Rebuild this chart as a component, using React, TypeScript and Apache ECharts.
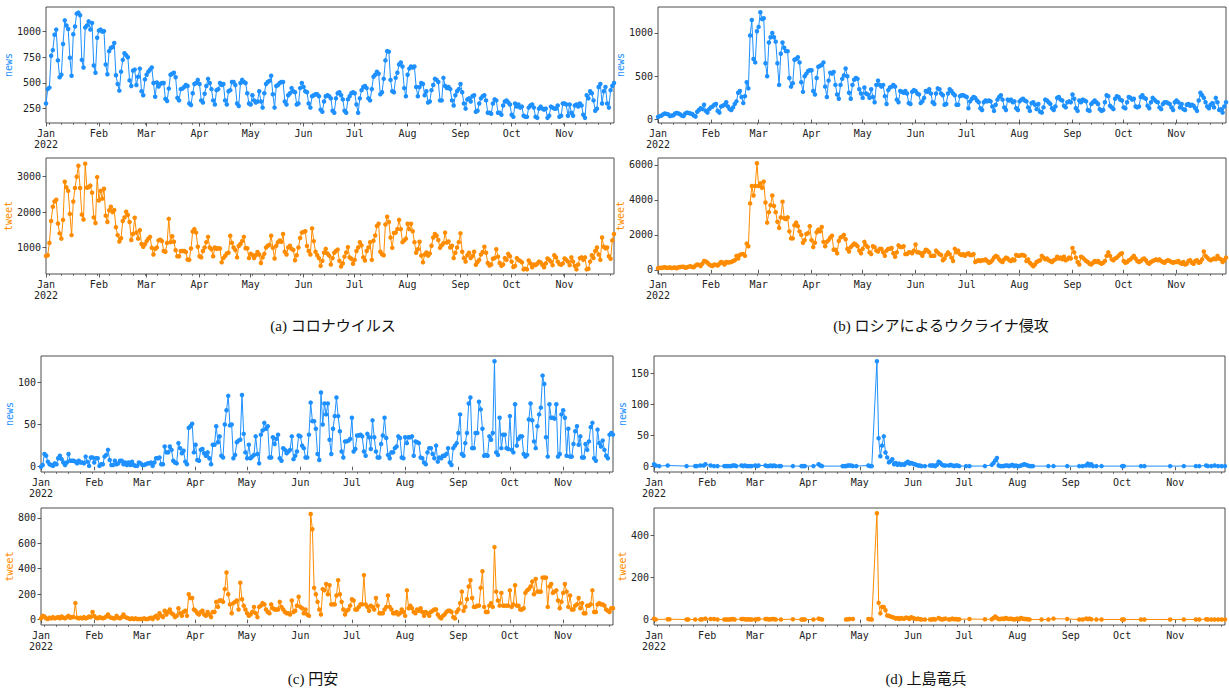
import React, { useEffect, useRef } from "react";
import * as echarts from "echarts";

// ---- axis text (day index 0 = 2022-01-01, last = 2022-11-30) ----
const lastDay = 333;
const monthStarts = [0, 31, 59, 90, 120, 151, 181, 212, 243, 273, 304];
const monthLabels = ["Jan\n2022", "Feb", "Mar", "Apr", "May", "Jun", "Jul", "Aug", "Sep", "Oct", "Nov"];

// ---- (a) コロナウイルス : daily values Jan 1 .. Nov 30 ----
const aNews = [
  300,440,455,765,820,970,1020,720,555,580,880,1110,1060,1025,745,570,975,1050,1175,1185,1160,725,650,1040,1060,1100,1020,1085,670,600,940,
  1010,1020,1000,1005,680,585,810,840,850,890,575,490,425,610,725,790,770,750,525,470,620,630,480,560,640,420,380,535,
  580,610,630,650,500,365,505,465,490,500,500,345,325,445,580,590,600,555,355,330,440,445,460,480,470,300,285,400,490,500,530,
  490,330,310,395,470,540,500,440,330,290,430,440,500,480,490,330,290,420,430,510,510,480,300,275,500,530,510,500,400,300,
  290,380,330,310,320,420,320,260,400,490,510,520,570,390,260,470,480,500,510,510,320,290,380,400,450,420,410,290,300,450,500,
  460,420,410,300,260,370,380,390,390,370,240,220,320,370,380,370,350,230,210,350,400,410,380,340,230,210,340,370,400,410,
  400,290,210,350,430,460,470,450,350,330,440,560,580,610,590,390,410,540,720,810,805,530,420,410,550,600,680,700,660,450,370,
  580,640,660,650,660,460,370,460,500,490,380,420,310,320,430,480,540,530,510,330,330,550,470,450,460,440,330,280,380,420,440,
  490,410,300,250,340,350,320,370,380,220,230,300,350,370,380,330,210,210,200,300,340,330,210,210,190,280,320,330,310,290,
  190,170,300,270,290,260,270,180,170,170,260,280,290,260,170,160,250,270,250,240,250,160,180,270,260,250,250,280,170,180,300,
  300,290,180,290,210,180,280,290,270,300,280,190,160,380,350,420,400,330,230,250,460,490,300,420,460,300,260,430,470,500,
];
const aTweet = [
  760,780,1130,1750,2150,2300,2350,1680,1400,1250,1780,2860,2700,2600,1950,1350,2300,2680,3000,3310,2680,1930,1790,3370,2690,2710,2750,2550,1850,1690,2990,
  2330,2600,2380,2660,1900,1720,2050,2150,2000,2060,1570,1350,1170,1260,1750,1850,2010,1920,1720,1210,1380,1840,1420,1250,1490,1100,1020,1090,
  1180,1250,1300,990,800,960,1000,1200,1220,1180,900,880,1130,1810,1150,1320,1160,920,750,750,900,900,900,870,660,650,970,1450,1520,1420,1020,
  750,720,900,1000,1150,1300,1000,950,750,1000,960,980,970,580,700,760,830,850,1330,1130,1000,930,720,1040,1100,1180,1300,980,980,700,
  820,790,700,780,870,800,560,720,820,1000,1050,1070,1330,990,690,1050,1150,1200,1160,1380,880,800,1000,1050,960,930,640,780,1000,1270,1420,
  1440,1460,1040,900,800,1540,1180,880,780,700,480,620,850,960,830,770,520,700,850,900,940,620,460,550,740,860,1010,720,680,540,
  650,900,1000,1150,1060,720,630,900,1000,1150,650,1190,1340,1610,1670,880,810,780,1650,1870,1720,1280,990,1410,1420,1520,1780,1520,1150,1200,1250,
  1670,1520,1670,1460,1150,850,950,1160,770,580,800,860,770,830,1050,1280,1380,1330,1210,990,1060,1120,1420,1140,1170,1000,1050,700,850,1000,1150,
  1400,880,700,600,780,850,700,760,880,510,590,650,800,870,1020,850,560,490,520,680,700,950,740,560,480,520,700,650,820,750,
  600,450,480,700,650,620,580,380,400,380,630,550,440,520,500,540,600,580,510,440,550,690,650,600,500,780,720,600,530,510,550,
  690,650,600,500,720,600,480,380,520,700,720,650,720,380,400,600,780,700,900,1000,800,650,1280,1020,980,1000,750,680,1200,1380,
];

// ---- (b) ロシアによるウクライナ侵攻 ----
const bNews = [
  30,40,45,60,70,65,60,40,45,50,70,75,70,60,45,40,70,80,75,70,65,45,35,90,110,130,120,170,100,80,120,
  140,150,170,180,100,80,150,160,170,200,150,120,110,140,180,210,310,330,260,190,270,430,360,970,1150,700,660,1020,
  1070,1240,1160,1170,650,500,890,950,1000,950,900,650,400,760,890,830,790,790,480,380,420,690,700,720,660,430,320,500,530,560,570,
  570,330,290,480,610,620,630,660,380,260,450,540,530,550,400,290,240,400,470,510,590,500,310,240,400,460,480,470,350,300,
  250,370,300,290,250,350,260,200,400,450,400,380,400,270,180,340,370,380,400,380,230,200,330,320,310,330,300,190,180,320,340,
  330,300,290,190,210,250,330,320,350,300,200,180,300,360,350,300,280,170,180,300,350,330,300,280,170,170,270,280,280,270,
  260,130,210,240,260,250,220,200,130,110,200,220,210,220,210,150,100,170,230,260,280,230,140,110,230,220,230,200,210,130,110,
  210,230,240,220,210,140,100,190,200,170,120,180,90,80,140,230,220,200,180,130,110,150,250,260,230,220,160,140,200,210,200,
  290,240,130,100,220,200,230,220,210,110,100,180,200,220,200,180,120,100,110,200,280,270,160,140,120,240,270,260,230,220,
  140,130,200,260,250,230,240,150,140,150,260,280,250,240,160,130,200,250,230,210,200,140,120,180,200,200,190,180,140,110,200,
  220,200,140,180,120,110,170,180,160,170,160,130,100,220,310,280,250,200,150,130,170,190,140,250,200,110,120,80,150,200,
];
const bTweet = [
  90,120,100,130,150,120,110,140,100,120,130,90,150,160,170,180,120,150,180,200,160,150,250,300,280,220,350,500,480,400,300,
  250,220,300,280,250,350,450,400,300,450,420,430,450,500,550,800,650,850,900,900,800,1500,1350,3800,4800,4250,4800,6100,
  4800,4950,4700,5050,3850,2700,3300,3700,4250,3650,3300,2750,2400,3000,3900,2950,2900,3000,2200,1800,1800,2550,2700,2500,2200,2000,1550,1700,2050,2100,2500,
  1700,1300,1550,2150,2300,2200,2450,1600,1350,1600,1700,1850,1950,1150,1150,950,1650,1850,1900,2000,1750,1200,1050,1300,1400,1500,1450,1350,1100,950,
  1200,1600,1400,1300,1000,900,1350,1300,1100,1050,1200,1200,1000,800,1100,1200,1200,1250,950,750,1000,1400,1300,1300,1350,900,900,1000,1000,950,1100,
  1450,1000,1000,950,800,1000,1150,1100,1000,800,800,800,1100,1000,900,850,550,650,850,1000,900,700,500,1200,1000,1100,900,850,900,800,
  900,950,850,850,900,450,500,550,500,550,550,600,500,400,450,550,700,800,750,600,500,450,600,700,650,550,500,600,550,850,800,
  800,850,850,800,500,600,400,300,200,300,450,500,550,800,700,600,650,550,500,450,550,600,750,650,700,600,750,550,600,700,650,
  1250,1000,700,450,300,750,700,600,500,450,350,300,400,500,450,500,400,350,400,500,800,1000,800,600,550,650,700,800,900,950,
  500,400,450,550,600,700,800,650,500,450,500,600,650,550,400,350,450,500,550,600,550,600,500,450,400,500,550,500,450,400,450,
  450,500,400,350,450,300,350,500,550,400,350,500,550,400,450,600,1050,800,700,600,550,600,650,600,800,650,600,450,550,700,
];

// ---- (c) 円安 ----
const cNews = [
  0,2,15,13,6,3,2,1,4,3,10,13,9,5,2,5,15,7,7,7,6,4,7,5,5,4,12,6,1,11,11,
  5,10,10,1,3,3,12,14,20,8,2,2,7,3,4,7,7,3,5,2,5,2,6,2,1,1,5,4,
  2,2,3,4,4,5,1,5,10,10,11,3,3,24,17,17,24,20,7,5,4,28,22,16,19,6,3,46,48,51,17,
  26,8,7,20,21,16,13,17,10,3,26,26,48,29,36,13,11,50,67,84,49,50,10,14,29,31,32,85,39,17,
  10,26,10,12,14,36,15,4,38,43,52,45,48,11,11,35,27,33,38,10,7,22,20,16,18,20,36,9,13,18,37,
  36,25,22,11,11,38,76,54,54,45,15,8,88,50,75,62,75,32,15,45,60,82,60,42,18,11,30,30,31,33,
  58,18,21,37,37,38,36,18,13,39,35,21,55,35,18,11,11,27,37,58,34,14,10,17,17,22,24,36,34,11,10,
  35,28,35,35,36,13,30,29,28,11,10,5,3,17,22,22,15,10,25,6,11,10,13,13,15,22,5,2,22,25,28,
  40,62,15,13,28,40,75,82,22,22,40,40,77,68,45,13,14,13,36,32,40,125,17,14,58,22,38,38,22,21,
  60,20,17,74,25,33,36,36,15,12,14,56,75,55,30,22,48,62,70,108,98,35,12,74,58,58,57,74,12,15,62,
  67,58,13,45,12,12,27,42,48,26,36,11,11,27,20,30,47,52,10,7,44,28,24,31,20,13,10,38,40,38,
];
const cTweet = [
  10,30,25,10,5,15,10,20,10,15,20,10,25,15,10,20,30,15,20,20,130,15,10,15,10,20,10,15,25,20,60,
  30,15,10,20,15,10,15,25,40,20,15,10,10,30,15,10,20,40,20,15,10,5,10,5,10,5,5,5,
  5,10,5,5,10,15,5,20,30,10,50,30,20,70,40,60,80,50,40,20,30,90,50,30,60,70,30,200,170,170,80,
  70,50,40,60,70,40,30,60,40,20,60,60,140,100,150,150,140,240,370,200,120,50,130,140,150,80,290,160,110,80,
  50,30,40,60,100,50,20,100,110,130,120,80,60,50,120,90,80,80,80,140,100,80,60,50,50,40,150,60,70,110,180,
  100,90,50,80,40,30,830,710,250,200,140,80,40,240,230,280,200,270,120,120,120,190,310,200,140,80,40,70,80,110,
  160,150,80,80,100,120,120,350,120,100,70,110,100,80,170,110,50,50,50,80,100,190,100,80,50,50,60,40,50,80,60,
  30,230,90,110,90,60,50,80,70,90,60,30,60,50,30,60,70,80,80,40,20,10,30,40,60,70,70,60,20,10,60,
  80,130,220,70,100,160,260,310,170,100,100,110,110,250,380,100,60,60,110,130,100,570,220,150,110,210,110,110,110,110,
  230,100,120,270,110,110,80,80,90,210,230,240,260,300,200,320,220,220,220,330,330,330,100,260,280,210,220,230,150,90,140,
  210,280,220,100,190,80,80,110,120,170,90,130,50,50,110,110,120,230,60,60,120,130,120,120,110,80,70,60,90,90,
];

// ---- (d) 上島竜兵 : [day index, count] only on days with data (null = missing) ----
const dNews = [
  [0,4],[1,2],[3,1],[8,2],[19,1],[24,1],[25,1],[27,2],[29,2],[30,4],[33,2],[35,1],[37,1],[41,1],[42,1],[43,1],[44,1],[45,1],[46,2],[47,2],[48,1],
  [51,2],[52,1],[53,2],[54,1],[55,1],[56,1],[57,1],[59,2],[60,1],[61,2],[65,2],[66,1],[67,1],[68,2],[69,1],[70,2],[71,1],[73,1],[74,1],[81,1],
  [86,1],[87,1],[88,1],[93,1],[96,4],[97,2],[98,1],[110,1],[111,1],[112,1],[113,2],[114,2],[115,2],[116,1],[118,1],[125,2],[126,1],[127,1],
  [130,170],[131,46],[132,17],[133,34],[134,49],[135,23],[136,15],[137,7],[138,9],[139,12],[140,4],[141,6],[142,3],[143,5],[144,3],[145,4],
  [146,3],[147,6],[148,8],[149,5],[150,6],[151,5],[152,4],[153,3],[154,2],[155,2],[156,1],[158,1],[161,2],[162,2],[163,2],[164,1],[165,3],
  [166,8],[167,6],[168,3],[169,2],[170,2],[172,2],[173,3],[174,2],[175,1],[176,2],[177,2],[178,1],[182,1],[184,1],[193,1],[197,3],[198,6],
  [199,10],[200,14],[201,2],[202,1],[203,1],[204,1],[205,2],[206,2],[207,1],[208,2],[209,3],[210,1],[211,2],[212,1],[213,1],[214,2],[215,3],
  [216,4],[217,3],[218,2],[219,1],[220,1],[221,1],[230,1],[233,1],[241,1],[248,1],[250,1],[252,2],[253,5],[254,2],[255,4],[256,1],[258,1],
  [261,1],[273,1],[274,1],[284,1],[286,1],[301,1],[309,1],[316,1],[318,1],[322,2],[323,1],[325,1],[327,2],[329,1],[331,1],[333,1],
];
const dTweet = [
  [0,5],[1,1],[8,2],[9,2],[19,1],[20,1],[24,1],[27,1],[28,2],[30,5],[33,3],[35,3],[37,1],[41,1],[42,1],[43,1],[44,1],[45,2],[46,3],[47,1],
  [51,3],[52,3],[53,2],[54,1],[55,2],[56,1],[57,1],[59,1],[60,2],[61,3],[65,3],[66,3],[67,1],[68,2],[69,3],[70,3],[71,1],[74,1],[81,2],
  [86,1],[87,1],[88,1],[93,1],[96,5],[97,3],[98,1],[104,null],[112,1],[113,2],[114,3],[116,3],[118,null],[125,3],[126,2],[127,1],
  [130,505],[131,80],[132,30],[133,60],[134,60],[135,45],[136,20],[137,18],[138,15],[139,12],[140,10],[141,5],[142,8],[143,3],[144,8],
  [145,5],[146,5],[147,10],[148,8],[149,3],[150,12],[151,8],[152,5],[153,3],[154,5],[155,2],[156,1],[158,1],[161,1],[162,1],[163,3],[164,1],
  [166,8],[167,3],[168,1],[169,3],[170,5],[172,1],[173,2],[174,5],[175,2],[176,3],[177,1],[178,2],[184,3],[193,2],[197,2],[198,8],[199,15],
  [200,8],[201,3],[202,3],[203,5],[204,3],[205,8],[206,5],[207,3],[208,5],[209,3],[210,1],[211,3],[212,5],[213,2],[214,8],[215,5],[216,3],
  [217,3],[218,2],[219,1],[226,1],[230,1],[233,5],[241,3],[248,1],[250,1],[252,5],[253,3],[254,5],[255,2],[258,1],[261,1],[273,1],[274,1],
  [284,1],[286,1],[301,1],[309,1],[316,1],[318,1],[322,2],[323,1],[325,1],[327,1],[329,1],[331,1],[333,1],
];

// ---- y tick labels per panel ----
const aNewsTicks = [250, 500, 750, 1000];
const aTweetTicks = [1000, 2000, 3000];
const bNewsTicks = [0, 500, 1000];
const bTweetTicks = [0, 2000, 4000, 6000];
const cNewsTicks = [0, 50, 100];
const cTweetTicks = [0, 200, 400, 600, 800];
const dNewsTicks = [0, 50, 100, 150];
const dTweetTicks = [0, 200, 400];

const captions = ["(a) コロナウイルス", "(b) ロシアによるウクライナ侵攻", "(c) 円安", "(d) 上島竜兵"];

const BLUE = "#1E90FF";
const ORANGE = "#FF8C00";
const TICK_FONT = "'DejaVu Sans Mono', 'Noto Sans CJK JP', monospace";

const toPairs = (vals: number[]) => vals.map((v, i) => [i, v]);

const panels = [
  { data: toPairs(aNews), left: 46, top: 7, width: 568, height: 116, min: 110, max: 1240, ticks: aNewsTicks, name: "news", color: BLUE, gap: 31 },
  { data: toPairs(aTweet), left: 46, top: 158, width: 568, height: 116, min: 250, max: 3530, ticks: aTweetTicks, name: "tweet", color: ORANGE, gap: 31 },
  { data: toPairs(bNews), left: 658, top: 7, width: 568, height: 116, min: -40, max: 1300, ticks: bNewsTicks, name: "news", color: BLUE, gap: 31 },
  { data: toPairs(bTweet), left: 658, top: 158, width: 568, height: 116, min: -240, max: 6400, ticks: bTweetTicks, name: "tweet", color: ORANGE, gap: 31 },
  { data: toPairs(cNews), left: 41, top: 356, width: 572, height: 116, min: -6.25, max: 131.25, ticks: cNewsTicks, name: "news", color: BLUE, gap: 26 },
  { data: toPairs(cTweet), left: 41, top: 508, width: 572, height: 117, min: -42, max: 877, ticks: cTweetTicks, name: "tweet", color: ORANGE, gap: 26 },
  { data: dNews, left: 654, top: 356, width: 571, height: 116, min: -8.5, max: 178.5, ticks: dNewsTicks, name: "news", color: BLUE, gap: 26 },
  { data: dTweet, left: 654, top: 508, width: 571, height: 117, min: -25.25, max: 530.25, ticks: dTweetTicks, name: "tweet", color: ORANGE, gap: 26 },
];

const captionPos = [
  { x: 333, y: 326 },
  { x: 941, y: 326 },
  { x: 313, y: 679 },
  { x: 926, y: 679 },
];

export default function App() {
  const ref = useRef<HTMLDivElement>(null);
  useEffect(() => {
    if (!ref.current) return;
    const chart = echarts.init(ref.current, undefined, { renderer: "svg" });
    const mondays: number[] = [];
    for (let d = 2; d <= lastDay; d += 7) mondays.push(d);

    const grid: any[] = [];
    const xAxis: any[] = [];
    const yAxis: any[] = [];
    const series: any[] = [];
    panels.forEach((p, i) => {
      grid.push({
        left: p.left, top: p.top, width: p.width, height: p.height,
        show: true, borderColor: "#4d4d4d", borderWidth: 1, backgroundColor: "transparent",
      });
      xAxis.push({
        type: "value", gridIndex: i, min: 0, max: lastDay, position: "bottom",
        axisLine: { show: false },
        splitLine: { show: false },
        axisTick: { show: true, customValues: monthStarts, length: 3.5, lineStyle: { color: "#333", width: 0.8 } },
        axisLabel: {
          show: true, customValues: monthStarts, margin: 5,
          fontFamily: TICK_FONT, fontSize: 10, color: "#222", lineHeight: 11,
          formatter: (v: number) => monthLabels[monthStarts.indexOf(v)] ?? "",
        },
      });
      xAxis.push({
        type: "value", gridIndex: i, min: 0, max: lastDay, position: "bottom", offset: 0,
        axisLine: { show: false }, splitLine: { show: false }, axisLabel: { show: false },
        axisTick: { show: true, customValues: mondays, length: 2, lineStyle: { color: "#333", width: 0.6 } },
      });
      yAxis.push({
        type: "value", gridIndex: i, min: p.min, max: p.max,
        axisLine: { show: false }, splitLine: { show: false },
        axisTick: { show: true, customValues: p.ticks, length: 3.5, lineStyle: { color: "#333", width: 0.8 } },
        axisLabel: {
          customValues: p.ticks, margin: 5, fontFamily: TICK_FONT, fontSize: 10, color: "#222",
          formatter: (v: number) => String(v),
        },
        name: p.name, nameLocation: "middle", nameGap: p.gap,
        nameTextStyle: { color: p.color, fontFamily: TICK_FONT, fontSize: 10 },
      });
      series.push({
        type: "line", xAxisIndex: i * 2, yAxisIndex: i, data: p.data,
        symbol: "circle", symbolSize: 4.5, showSymbol: true, connectNulls: false,
        itemStyle: { color: p.color }, lineStyle: { color: p.color, width: 1 },
        silent: true, z: 3,
      });
    });

    const graphic = captions.map((t, i) => ({
      type: "text", x: captionPos[i].x, y: captionPos[i].y,
      style: {
        text: t, fill: "#111", fontSize: 15,
        fontFamily: "'Liberation Serif', 'DejaVu Serif', 'Noto Sans CJK JP', serif",
        textAlign: "center", textVerticalAlign: "middle",
      },
    }));

    chart.setOption({
      animation: false,
      backgroundColor: "#ffffff",
      grid, xAxis, yAxis, series, graphic,
    });
    return () => chart.dispose();
  }, []);
  return <div ref={ref} style={{ position: "absolute", left: 0, top: 0, width: 1229, height: 693 }} />;
}
